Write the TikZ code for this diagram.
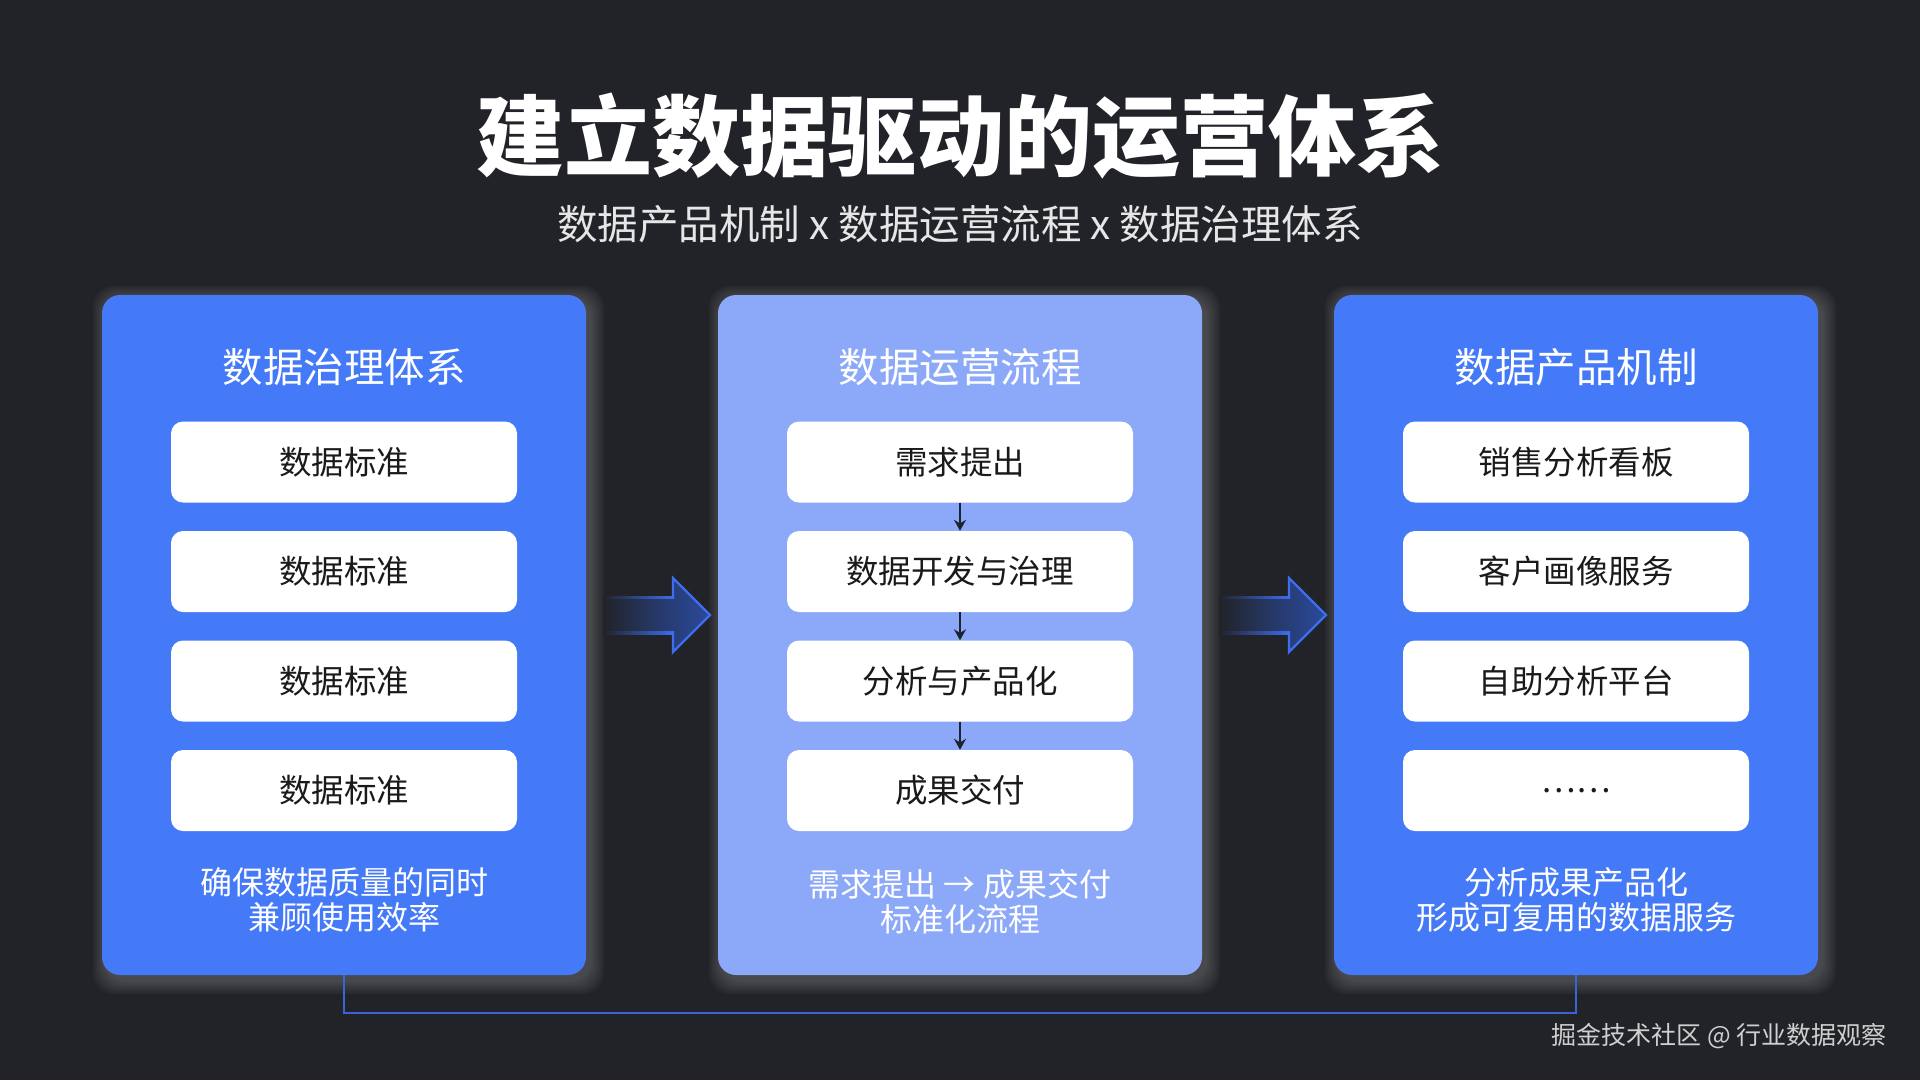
\documentclass[tikz,border=0pt]{standalone}
\usepackage{fontspec}
\setmainfont{Noto Sans CJK SC}
\usetikzlibrary{arrows.meta}
\definecolor{bg}{HTML}{212328}
\definecolor{panelblue}{HTML}{4479F8}
\definecolor{panellight}{HTML}{8CA8F8}
\definecolor{boxtext}{HTML}{1A1A1A}
\definecolor{flowdark}{HTML}{1F2330}
\definecolor{arrowfill}{HTML}{2B4A9C}
\definecolor{arrowedge}{HTML}{3D6EF0}
\definecolor{conn}{HTML}{3B63D6}
\definecolor{subtle}{HTML}{E6E6E6}
\definecolor{mark}{HTML}{CFCFCF}
\begin{document}
\begin{tikzpicture}[x=1pt,y=-1pt,
  panel/.style={rounded corners=18pt, minimum width=484pt, minimum height=680pt, inner sep=0pt, draw=none},
  box/.style={fill=white, rounded corners=12pt, minimum width=346pt, minimum height=81pt, inner sep=0pt, text=boxtext, font=\fontsize{32.5}{38}\selectfont},
  head/.style={text=white, font=\fontsize{40.5}{46}\selectfont},
  note/.style={text=white, align=center, font=\fontsize{32}{35}\selectfont},
  flow/.style={draw=flowdark, line width=2.8pt, -{Stealth[length=11pt,width=12pt]}},
  glowbox/.style={fill=white, fill opacity=0.022, rounded corners=22pt},
  connline/.style={draw=conn, line width=2.5pt}
]
\useasboundingbox (0,0) rectangle (1920,1080);
\fill[bg] (0,0) rectangle (1920,1080);

% title
\node[text=white, font=\fontsize{88}{96}\selectfont\bfseries] (title) at (960,136) {建立数据驱动的运营体系};
\node[text=subtle, font=\fontsize{40.5}{46}\selectfont] (subtitle) at (960,224) {数据产品机制 x 数据运营流程 x 数据治理体系};

% glows
\foreach \L in {102,718,1334}{
  \foreach \i in {1,...,9}{
    \fill[glowbox] (\L+4-\i*1.5, 295+4-\i*1.5) rectangle (\L+484+4+\i*1.6, 975+5+\i*1.6);
  }
}

% bottom connector
\coordinate (c1) at (344,975);
\coordinate (c3) at (1576,975);
\draw[connline] (c1) -- ++(0,38) -| (c3);

% panels
\node[panel, fill=panelblue] (p1) at (344,635) {};
\node[panel, fill=panellight] (p2) at (960,635) {};
\node[panel, fill=panelblue] (p3) at (1576,635) {};

% headers
\node[head] (h1) at (344,367) {数据治理体系};
\node[head] (h2) at (960,367) {数据运营流程};
\node[head] (h3) at (1576,367) {数据产品机制};

% panel 1 boxes
\node[box] (b11) at (344,462) {数据标准};
\node[box] (b12) at (344,571.5) {数据标准};
\node[box] (b13) at (344,681) {数据标准};
\node[box] (b14) at (344,790.5) {数据标准};

% panel 2 boxes
\node[box] (b21) at (960,462) {需求提出};
\node[box] (b22) at (960,571.5) {数据开发与治理};
\node[box] (b23) at (960,681) {分析与产品化};
\node[box] (b24) at (960,790.5) {成果交付};
\draw[flow] (b21.south) -- (b22.north);
\draw[flow] (b22.south) -- (b23.north);
\draw[flow] (b23.south) -- (b24.north);

% panel 3 boxes
\node[box] (b31) at (1576,462) {销售分析看板};
\node[box] (b32) at (1576,571.5) {客户画像服务};
\node[box] (b33) at (1576,681) {自助分析平台};
\node[box] (b34) at (1576,790.5) {……};

% notes
\node[note] (n1) at (344,900) {确保数据质量的同时\\兼顾使用效率};
\node[note] (n2) at (960,902) {需求提出 → 成果交付\\标准化流程};
\node[note] (n3) at (1576,900) {分析成果产品化\\形成可复用的数据服务};

% big arrows between panels
\foreach \dx in {0,616}{
  \begin{scope}[xshift=\dx]
    \shade[left color=bg, right color=arrowfill, middle color=arrowfill!55!bg]
      (603,597) -- (673,597) -- (673,578) -- (710,615) -- (673,652) -- (673,633) -- (603,633) -- cycle;
    \shade[left color=bg, right color=arrowedge] (603,596) rectangle (674,598.5);
    \shade[left color=bg, right color=arrowedge] (603,631.5) rectangle (674,634);
    \draw[arrowedge, line width=2.2pt, line join=miter]
      (673,597) -- (673,578) -- (710,615) -- (673,652) -- (673,633);
  \end{scope}
}

% watermark
\node[text=mark, anchor=east, font=\fontsize{25}{30}\selectfont] (wm) at (1890,1036) {掘金技术社区 @ 行业数据观察};
\end{tikzpicture}
\end{document}
